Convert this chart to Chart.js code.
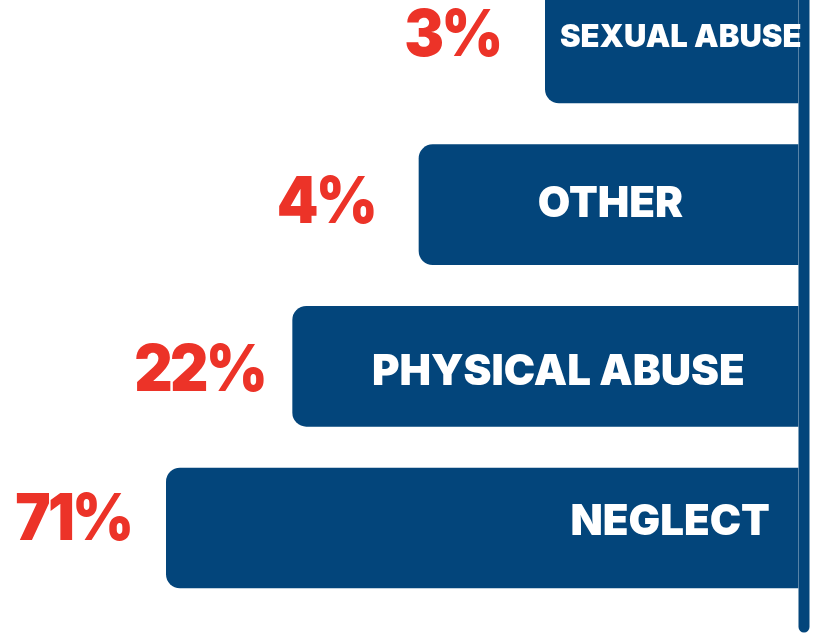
<!DOCTYPE html>
<html>
<head>
<meta charset="utf-8">
<script src="https://cdn.jsdelivr.net/npm/chart.js@4.4.1/dist/chart.umd.min.js"></script>
<style>
  html, body { margin: 0; padding: 0; background: #fff; }
  #wrap { width: 825px; height: 637px; position: relative; }
</style>
</head>
<body>
<div id="wrap"><canvas id="grafico"></canvas></div>
<script>
// categories top to bottom
const categorias = ['SEXUAL ABUSE', 'OTHER', 'PHYSICAL ABUSE', 'NEGLECT'];
// percentages printed next to each bar
const porcentajes = [3, 4, 22, 71];
// bar lengths as drawn (stepped, not proportional to the percentages)
const largoBarra = [2, 3, 4, 5];

const azul = '#03457b';
const rojo = '#ec3328';

// etiquetas: percent in red to the left, category name inside the bar
const etiquetas = {
  id: 'etiquetas',
  afterDatasetsDraw(chart) {
    const ctx = chart.ctx;
    const meta = chart.getDatasetMeta(0);
    const ajusteX = [9, 2, 13, 188];
    const ajusteY = [-5, 0, 6, -6];
    const tamano = [31, 42, 42, 42];
    ctx.save();
    // vertical rule on the right
    const x = chart.chartArea.right + 6;
    ctx.strokeStyle = azul;
    ctx.lineWidth = 11;
    ctx.lineCap = 'round';
    ctx.beginPath();
    ctx.moveTo(x, -20);
    ctx.lineTo(x, 627);
    ctx.stroke();

    ctx.textBaseline = 'middle';
    ctx.textAlign = 'center';
    meta.data.forEach((bar, i) => {
      const izq = Math.min(bar.x, bar.base);
      const der = Math.max(bar.x, bar.base);
      const y = bar.y + ajusteY[i];
      // percent, slightly condensed
      ctx.save();
      ctx.translate(izq - 93, y - 1);
      ctx.scale(0.93, 1);
      ctx.fillStyle = rojo;
      ctx.font = '900 64px Inter';
      ctx.letterSpacing = '-3px';
      ctx.fillText(porcentajes[i] + '%', 0, 0);
      ctx.restore();
      ctx.fillStyle = '#fff';
      ctx.font = '900 ' + tamano[i] + 'px Inter';
      ctx.fillText(categorias[i], (izq + der) / 2 + ajusteX[i], y);
    });
    ctx.restore();
  }
};

new Chart(document.getElementById('grafico'), {
  type: 'bar',
  data: {
    labels: categorias,
    datasets: [{
      data: largoBarra,
      backgroundColor: azul,
      barThickness: 120,
      borderRadius: 14,
      borderSkipped: 'start',
      clip: false
    }]
  },
  options: {
    indexAxis: 'y',
    responsive: true,
    maintainAspectRatio: false,
    animation: false,
    layout: { padding: { top: 43, bottom: 109, left: 40, right: 27 } },
    plugins: { legend: { display: false }, tooltip: { enabled: false } },
    scales: {
      x: { reverse: true, min: 0, max: 6, display: false },
      y: { display: false, offset: false }
    }
  },
  plugins: [etiquetas]
});
</script>
</body>
</html>
